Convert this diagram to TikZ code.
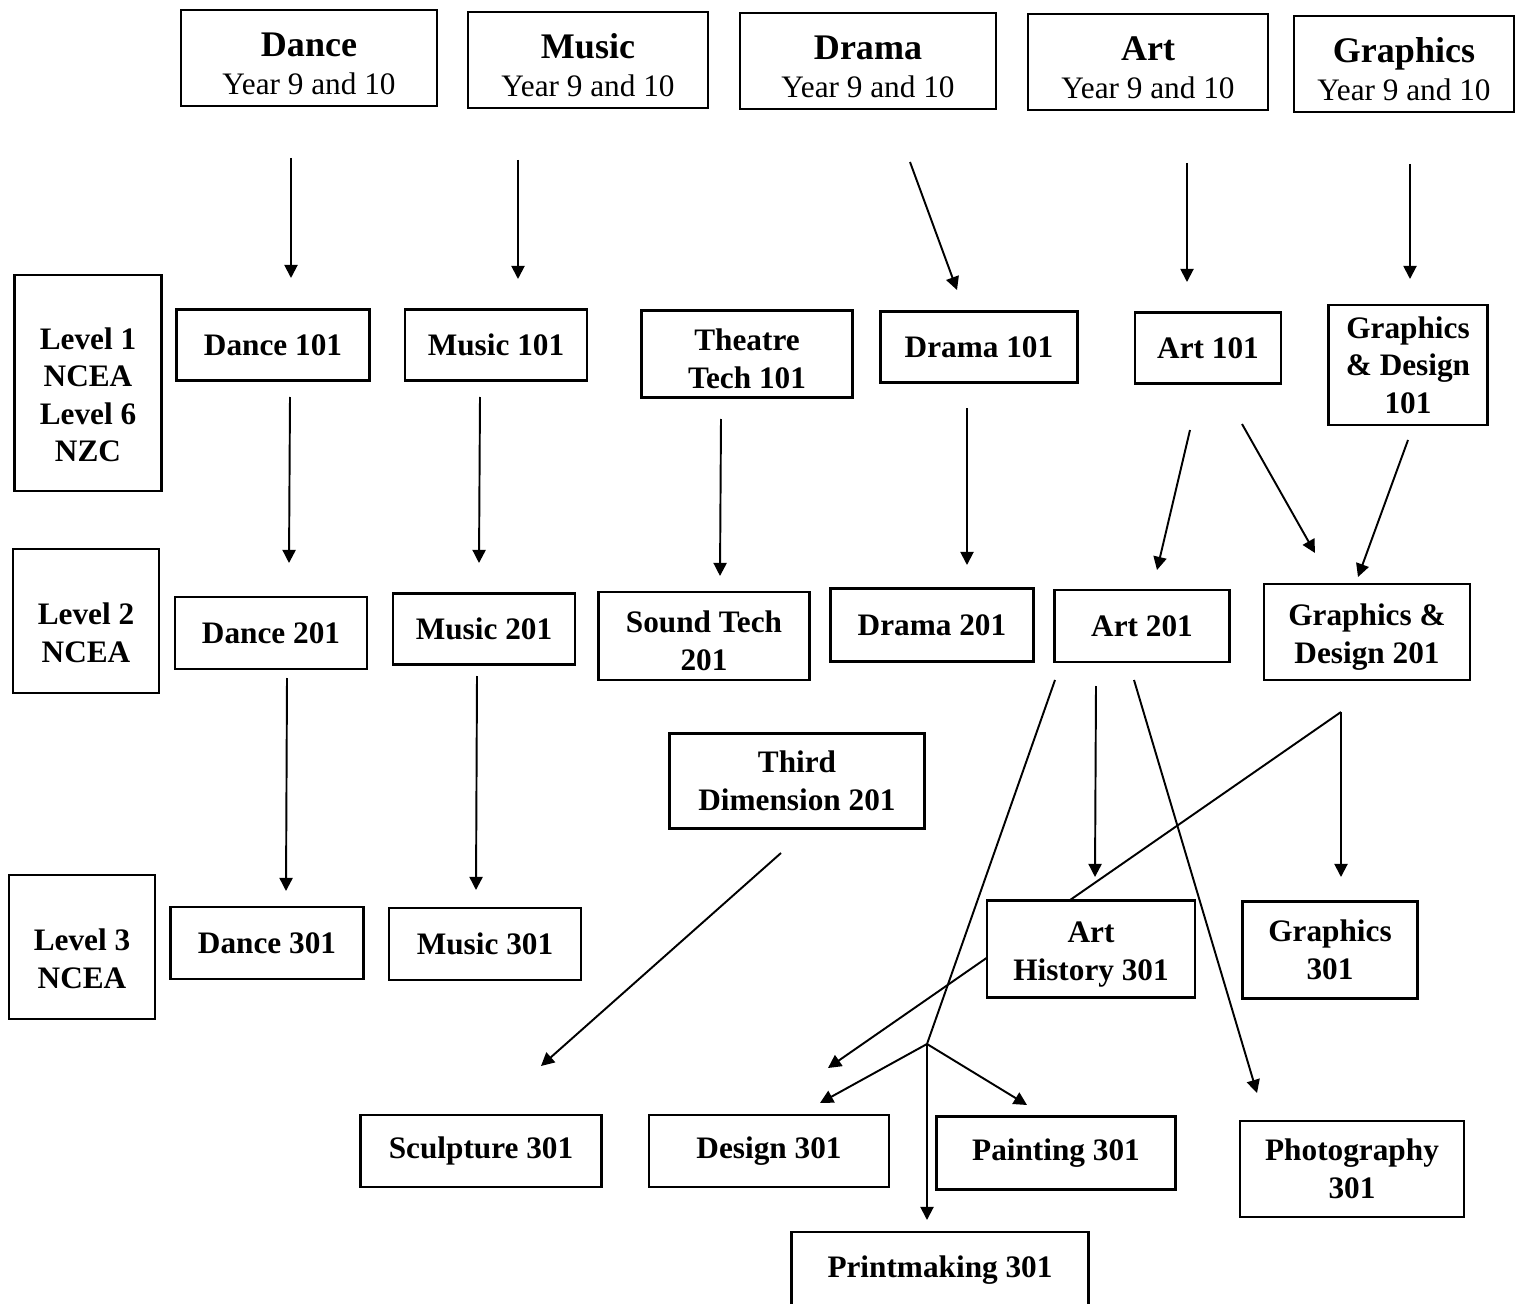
\documentclass[tikz,border=0pt]{standalone}
\usepackage{fontspec}
\setmainfont{Liberation Serif}
\usetikzlibrary{arrows.meta,backgrounds}
\newcommand{\lowr}[1][26pt]{\rule{0pt}{#1}}

\begin{document}
\begin{tikzpicture}[x=0.02cm,y=-0.02cm,
                    box/.style={draw,line width=1.3pt,fill=white,align=center,
                                inner sep=0pt,font=\fontsize{17.8}{21.3}\selectfont\bfseries},
                    yearbox/.style={box,minimum height=1.92cm},
                    arr/.style={line width=1.1pt,-{Triangle[length=7.5pt,width=7.5pt]}}]
  \useasboundingbox (0,0) rectangle (1522,1304);
  % year 9 and 10
  \node[yearbox,minimum width=5.12cm] (dance9) at (309,58)
    {\lowr[20pt]{\fontsize{20.5}{21}\selectfont Dance}\\[0pt]\mdseries Year 9 and 10};
  \node[yearbox,minimum width=4.8cm] (music9) at (588,60)
    {\lowr[20pt]{\fontsize{20.5}{21}\selectfont Music}\\[0pt]\mdseries Year 9 and 10};
  \node[yearbox,minimum width=5.12cm] (drama9) at (868,61)
    {\lowr[20pt]{\fontsize{20.5}{21}\selectfont Drama}\\[0pt]\mdseries Year 9 and 10};
  \node[yearbox,minimum width=4.8cm] (art9) at (1148,62)
    {\lowr[20pt]{\fontsize{20.5}{21}\selectfont Art}\\[0pt]\mdseries Year 9 and 10};
  \node[yearbox,minimum width=4.4cm] (graph9) at (1404,64)
    {\lowr[20pt]{\fontsize{20.5}{21}\selectfont Graphics}\\[0pt]\mdseries Year 9 and 10};
  % levels
  \node[box,minimum width=2.94cm,minimum height=4.32cm] (lev1) at (88,383)
    {\lowr Level 1\\NCEA\\Level 6\\NZC};
  \node[box,minimum width=2.92cm,minimum height=2.88cm] (lev2) at (86,621)
    {\lowr Level 2\\NCEA};
  \node[box,minimum width=2.92cm,minimum height=2.88cm] (lev3) at (82,947)
    {\lowr Level 3\\NCEA};
  % level 1
  \node[box,minimum width=3.86cm,minimum height=1.42cm] (dance101) at (273,345) {Dance 101};
  \node[box,minimum width=3.64cm,minimum height=1.42cm] (music101) at (496,345) {Music 101};
  \node[box,minimum width=4.22cm,minimum height=1.74cm] (theatre101) at (747,354) {\lowr[18pt]Theatre\\Tech 101};
  \node[box,minimum width=3.94cm,minimum height=1.42cm] (drama101) at (979,347) {Drama 101};
  \node[box,minimum width=2.92cm,minimum height=1.42cm] (art101) at (1208,348) {Art 101};
  \node[box,minimum width=3.18cm,minimum height=2.4cm] (gd101) at (1408,365) {Graphics\\\& Design\\101};
  % level 2
  \node[box,minimum width=3.84cm,minimum height=1.44cm] (dance201) at (271,633) {Dance 201};
  \node[box,minimum width=3.64cm,minimum height=1.42cm] (music201) at (484,629) {Music 201};
  \node[box,minimum width=4.22cm,minimum height=1.76cm] (sound201) at (704,636) {\lowr[18pt]Sound Tech\\201};
  \node[box,minimum width=4.06cm,minimum height=1.46cm] (drama201) at (932,625) {Drama 201};
  \node[box,minimum width=3.5cm,minimum height=1.44cm] (art201) at (1142,626) {Art 201};
  \node[box,minimum width=4.12cm,minimum height=1.92cm] (gd201) at (1367,632) {\lowr[18pt]Graphics \&\\Design 201};
  \node[box,minimum width=5.1cm,minimum height=1.9cm] (third201) at (797,781) {Third\\Dimension 201};
  % level 3
  \node[box,minimum width=3.86cm,minimum height=1.44cm] (dance301) at (267,943) {Dance 301};
  \node[box,minimum width=3.84cm,minimum height=1.44cm] (music301) at (485,944) {Music 301};
  \node[box,minimum width=4.16cm,minimum height=1.94cm] (arthist301) at (1091,949) {\lowr[18pt]Art\\History 301};
  \node[box,minimum width=3.5cm,minimum height=1.94cm] (graph301) at (1330,950) {Graphics\\301};
  \node[box,minimum width=4.82cm,minimum height=1.44cm] (sculpt301) at (481,1151) {Sculpture 301};
  \node[box,minimum width=4.8cm,minimum height=1.44cm] (design301) at (769,1151) {Design 301};
  \node[box,minimum width=4.78cm,minimum height=1.46cm] (paint301) at (1056,1153) {Painting 301};
  \node[box,minimum width=4.48cm,minimum height=1.92cm] (photo301) at (1352,1169) {Photography\\301};
  \node[box,minimum width=5.94cm,minimum height=1.52cm] (print301) at (940,1270) {Printmaking 301};
  % arrow ends
  \coordinate (dance9o) at (291,158);    \coordinate (dance101i) at (291,278);
  \coordinate (music9o) at (518,160);    \coordinate (music101i) at (518,279);
  \coordinate (drama9o) at (910,162);    \coordinate (drama101i) at (957,290);
  \coordinate (art9o) at (1187,163);     \coordinate (art101i) at (1187,282);
  \coordinate (graph9o) at (1410,164);   \coordinate (gd101i) at (1410,279);
  \coordinate (dance101o) at (290,397);  \coordinate (dance201i) at (289,563);
  \coordinate (music101o) at (480,397);  \coordinate (music201i) at (479,563);
  \coordinate (theatre101o) at (721,419); \coordinate (sound201i) at (720,576);
  \coordinate (drama101o) at (967,408);  \coordinate (drama201i) at (967,565);
  \coordinate (art101o) at (1190,430);   \coordinate (art201i) at (1157,570);
  \coordinate (art101r) at (1242,424);   \coordinate (gd201l) at (1315,553);
  \coordinate (gd101o) at (1408,440);    \coordinate (gd201i) at (1358,577);
  \coordinate (dance201o) at (287,678);  \coordinate (dance301i) at (286,891);
  \coordinate (music201o) at (477,676);  \coordinate (music301i) at (476,890);
  \coordinate (third201o) at (781,853);  \coordinate (sculpt301i) at (541,1066);
  \coordinate (art201o) at (1096,686);   \coordinate (arthist301i) at (1095,877);
  \coordinate (art201r) at (1134,680);   \coordinate (photo301i) at (1257,1093);
  \coordinate (art201l) at (1055,680);   \coordinate (split) at (927,1044);
  \coordinate (design301i) at (820,1103); \coordinate (paint301i) at (1027,1105);
  \coordinate (print301i) at (927,1220);
  \coordinate (gd201o) at (1341,712);    \coordinate (graph301i) at (1341,877);
  \coordinate (design301j) at (828,1068);
  \begin{scope}[on background layer]
    \foreach \a/\b in {dance9o/dance101i,music9o/music101i,drama9o/drama101i,
                       art9o/art101i,graph9o/gd101i,dance101o/dance201i,
                       music101o/music201i,theatre101o/sound201i,drama101o/drama201i,
                       art101o/art201i,art101r/gd201l,gd101o/gd201i,
                       dance201o/dance301i,music201o/music301i,third201o/sculpt301i,
                       art201o/arthist301i,art201r/photo301i,split/design301i,
                       split/paint301i,split/print301i,gd201o/graph301i,gd201o/design301j}
      \draw[arr] (\a) -- (\b);
    \draw[line width=1.1pt] (art201l) -- (split);
  \end{scope}
\end{tikzpicture}
\end{document}
